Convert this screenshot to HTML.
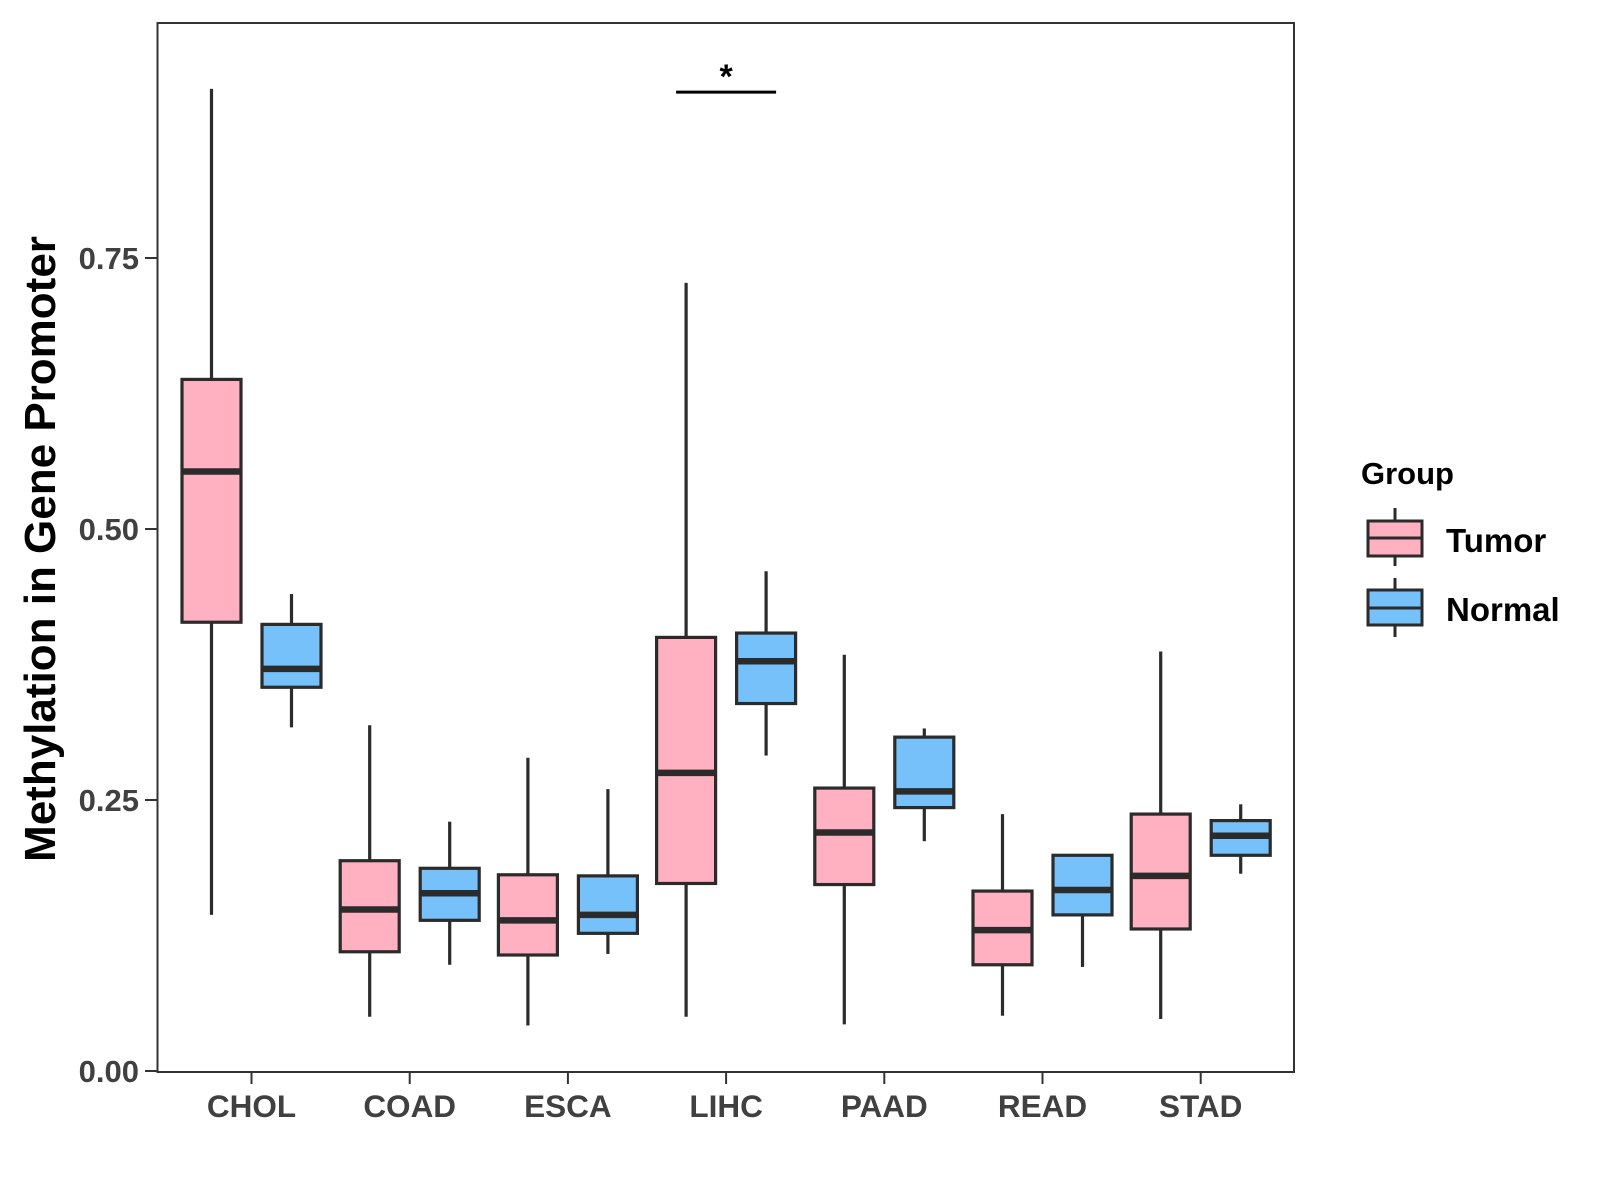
<!DOCTYPE html>
<html><head><meta charset="utf-8"><style>
html,body{margin:0;padding:0;background:#fff;}
svg{display:block;font-family:"Liberation Sans",sans-serif;font-weight:bold;}
</style></head><body>
<svg id="chart" width="1600" height="1200" viewBox="0 0 1600 1200">
<rect x="0" y="0" width="1600" height="1200" fill="#fff"/>
<g id="plot"></g>
<rect x="157.5" y="23" width="1136.5" height="1049" fill="none" stroke="#333" stroke-width="2"/>
<text x="0" y="0" transform="translate(55,549) rotate(-90)" text-anchor="middle" font-size="44" fill="#000">Methylation in Gene Promoter</text>
<g>
<text x="1361" y="484" font-size="31" fill="#000">Group</text>
<g>
<line x1="1395" y1="508" x2="1395" y2="566" stroke="#2b2b2b" stroke-width="3"/>
<rect x="1368" y="521" width="54" height="35" fill="#FFB0C1" stroke="#2b2b2b" stroke-width="3"/>
<line x1="1368" y1="538" x2="1422" y2="538" stroke="#2b2b2b" stroke-width="3"/>
<text x="1446" y="552" font-size="33" fill="#000">Tumor</text>
</g>
<g>
<line x1="1395" y1="578" x2="1395" y2="637" stroke="#2b2b2b" stroke-width="3"/>
<rect x="1368" y="590" width="54" height="35" fill="#76C1FA" stroke="#2b2b2b" stroke-width="3"/>
<line x1="1368" y1="608" x2="1422" y2="608" stroke="#2b2b2b" stroke-width="3"/>
<text x="1446" y="621" font-size="33" fill="#000">Normal</text>
</g>
</g>
</svg>
<script>
const categories = ["CHOL","COAD","ESCA","LIHC","PAAD","READ","STAD"];
const groups = ["Tumor","Normal"];
// [lower whisker, q1, median, q3, upper whisker]
const tumorStats = [
 [0.144,0.414,0.553,0.638,0.906],
 [0.050,0.110,0.149,0.194,0.319],
 [0.042,0.107,0.139,0.181,0.289],
 [0.050,0.173,0.275,0.400,0.727],
 [0.043,0.172,0.220,0.261,0.384],
 [0.051,0.098,0.130,0.166,0.237],
 [0.048,0.131,0.180,0.237,0.387]
];
const normalStats = [
 [0.317,0.354,0.371,0.412,0.440],
 [0.098,0.139,0.164,0.187,0.230],
 [0.108,0.127,0.144,0.180,0.260],
 [0.291,0.339,0.378,0.404,0.461],
 [0.212,0.243,0.258,0.308,0.316],
 [0.096,0.144,0.167,0.199,0.199],
 [0.182,0.199,0.217,0.231,0.246]
];
const yTicks = [0, 0.25, 0.5, 0.75];
const yTickLabels = ["0.00","0.25","0.50","0.75"];
const sigCategory = "LIHC";
const sigLevel = 0.903;
const sigLabel = "*";

const NS = "http://www.w3.org/2000/svg";
const plot = document.getElementById("plot");
const svg = document.getElementById("chart");
const yScale = v => 1071 - v * 1084;
const xScale = i => 251.5 + 158.2 * i;
const colors = ["#FFB0C1","#76C1FA"];
const offsets = [-40, 40];
const bw = 59;
function mk(tag, attrs, parent){
  const el = document.createElementNS(NS, tag);
  for (const k in attrs) el.setAttribute(k, attrs[k]);
  (parent||plot).appendChild(el);
  return el;
}
yTicks.forEach((t,i)=>{
  const y = yScale(t);
  const tk = mk("line",{x1:145,x2:157.5,y1:y,y2:y,stroke:"#333","stroke-width":2},svg);
  
  
  const lb = mk("text",{x:139,y:y+11,"text-anchor":"end","font-size":31,fill:"#404040"},svg);
  lb.textContent = yTickLabels[i];
  
  
});
categories.forEach((c,i)=>{
  const x = xScale(i);
  const tk = mk("line",{x1:x,x2:x,y1:1072,y2:1084,stroke:"#333","stroke-width":2},svg);
  
  
  const lb = mk("text",{x:x,y:1117,"text-anchor":"middle","font-size":31.5,fill:"#404040"},svg);
  lb.textContent = c;
  
  
});
[tumorStats, normalStats].forEach((stats,g)=>{
  stats.forEach((s,i)=>{
    const cx = xScale(i) + offsets[g];
    const grp = mk("g",{});
    
    
    mk("line",{x1:cx,x2:cx,y1:yScale(s[4]),y2:yScale(s[3]),stroke:"#2b2b2b","stroke-width":3.2},grp);
    mk("line",{x1:cx,x2:cx,y1:yScale(s[1]),y2:yScale(s[0]),stroke:"#2b2b2b","stroke-width":3.2},grp);
    mk("rect",{x:cx-bw/2,y:yScale(s[3]),width:bw,height:yScale(s[1])-yScale(s[3]),fill:colors[g],stroke:"#2b2b2b","stroke-width":3.2},grp);
    mk("line",{x1:cx-bw/2,x2:cx+bw/2,y1:yScale(s[2]),y2:yScale(s[2]),stroke:"#2b2b2b","stroke-width":6.5},grp);
  });
});
const si = categories.indexOf(sigCategory);
const sl = mk("line",{x1:xScale(si)+offsets[0]-10,x2:xScale(si)+offsets[1]+10,y1:yScale(sigLevel),y2:yScale(sigLevel),stroke:"#000","stroke-width":3},svg);


const st = mk("text",{x:xScale(si),y:yScale(sigLevel)-4,"text-anchor":"middle","font-size":34,fill:"#000"},svg);
st.textContent = sigLabel;


</script>
</body></html>
